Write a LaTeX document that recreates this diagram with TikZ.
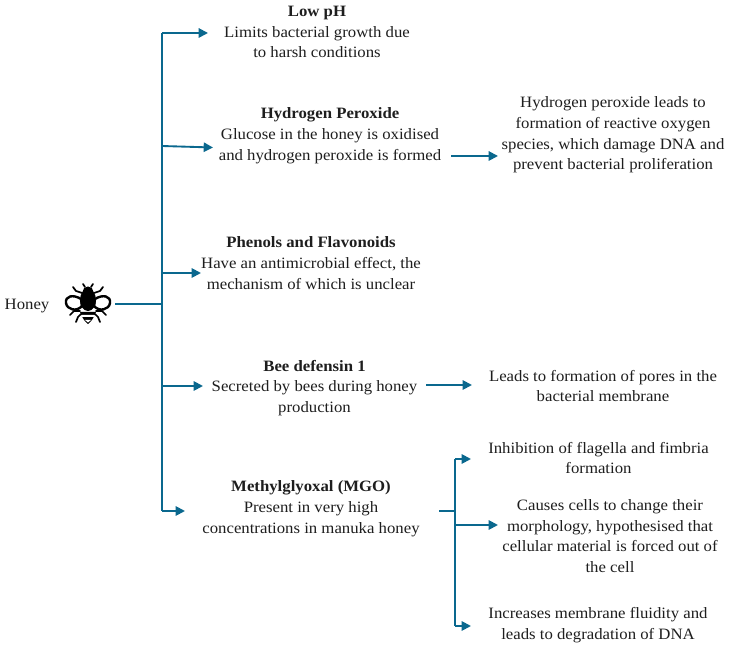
\documentclass[tikz,border=0pt]{standalone}
\usepackage{fontspec}
\setmainfont[FakeStretch=1.06]{Liberation Serif}
\usetikzlibrary{arrows.meta}
\definecolor{flow}{RGB}{10,104,142}
\definecolor{ink}{RGB}{30,30,30}
\tikzset{
 x=0.75pt,y=-0.75pt,
 txt/.style={align=center,inner sep=0pt,text=ink,font=\fontsize{11.85pt}{15.6pt}\selectfont},
 conn/.style={draw=flow,line width=1.4pt},
 arr/.style={conn,-{Triangle[length=7pt,width=7pt]}},
 beeline/.style={draw=black,line width=1.3pt,line cap=round},
}
\begin{document}
\begin{tikzpicture}
\useasboundingbox (0,0) rectangle (729,648);
\fill[white] (0,0) rectangle (729,648);
% text
\node[txt] (honey) at (27,306) {Honey};
\node[txt] (ph) at (317,32) {\textbf{Low pH}\\Limits bacterial growth due\\to harsh conditions};
\node[txt] (hp) at (330,136) {\textbf{Hydrogen Peroxide}\\Glucose in the honey is oxidised\\and hydrogen peroxide is formed};
\node[txt] (hpr) at (613,135) {Hydrogen peroxide leads to\\formation of reactive oxygen\\species, which damage DNA and\\prevent bacterial proliferation};
\node[txt] (pf) at (311,263) {\textbf{Phenols and Flavonoids}\\Have an antimicrobial effect, the\\mechanism of which is unclear};
\node[txt] (bd) at (314.5,388) {\textbf{Bee defensin 1}\\Secreted by bees during honey\\production};
\node[txt] (bdr) at (603,386) {Leads to formation of pores in the\\bacterial membrane};
\node[txt] (mgo) at (311,509) {\textbf{Methylglyoxal (MGO)}\\Present in very high\\concentrations in manuka honey};
\node[txt] (m1) at (598.5,458) {Inhibition of flagella and fimbria\\formation};
\node[txt] (m2) at (610,536) {Causes cells to change their\\morphology, hypothesised that\\cellular material is forced out of\\the cell};
\node[txt] (m3) at (598,625) {Increases membrane fluidity and\\leads to degradation of DNA};
% bee
\coordinate (bee) at (88,305);
\begin{scope}[shift={(bee)}]
 \fill (0,-5) ellipse [x radius=8,y radius=11];
 \fill (0,-13) circle [radius=5.5];
 \fill (-8,7) .. controls (-6,12) and (-4,16) .. (0,19) .. controls (4,16) and (6,12) .. (8,7) -- cycle;
 \fill[white] (-7,10) -- (7,10) -- (6,12) -- (-6,12) -- cycle;
 \fill[white] (-3,15) -- (3,15) -- (0,17.5) -- cycle;
 \draw[beeline,line width=1.8pt] (-7,-6) .. controls (-15,-11) and (-23,-9) .. (-22,-2) .. controls (-21,5) and (-11,7) .. (-6,1) -- cycle;
 \draw[beeline,line width=1.8pt] (7,-6) .. controls (15,-11) and (23,-9) .. (22,-2) .. controls (21,5) and (11,7) .. (6,1) -- cycle;
 \draw[beeline] (-3,-18) -- (-5,-21); \draw[beeline] (3,-18) -- (5,-21);
 \draw[beeline] (-6,-12) -- (-12,-14) -- (-15,-18);
 \draw[beeline] (6,-12) -- (12,-14) -- (15,-18);
 \draw[beeline] (-8,6) -- (-14,6) -- (-18,10);
 \draw[beeline] (8,6) -- (14,6) -- (18,10);
 \draw[beeline] (-7,9) -- (-10,12) -- (-12,17);
 \draw[beeline] (7,9) -- (10,12) -- (12,17);
\end{scope}
% connectors
\coordinate (stem) at (115,304);
\coordinate (tj) at (162,304);
\coordinate (t1) at (162,33);
\coordinate (t2) at (162,146);
\coordinate (t3) at (162,273);
\coordinate (t4) at (162,386);
\coordinate (t5) at (162,511);
\coordinate (a1) at (208,33);
\coordinate (a2) at (213,147.5);
\coordinate (a3) at (201,273);
\coordinate (a4) at (203,386);
\coordinate (a5) at (185,511);
\draw[conn] (stem) -- (tj);
\draw[arr] (t1) -- (a1);
\draw[conn] (t1) -- (t5);
\draw[arr] (t2) -- (a2);
\draw[arr] (t3) -- (a3);
\draw[arr] (t4) -- (a4);
\draw[arr] (t5) -- (a5);
\coordinate (h1) at (451,156);
\coordinate (h2) at (498,156);
\draw[arr] (h1) -- (h2);
\coordinate (d1) at (426,385);
\coordinate (d2) at (472,385);
\draw[arr] (d1) -- (d2);
\coordinate (g0) at (439,511);
\coordinate (gj) at (455,511);
\coordinate (g1) at (455,459);
\coordinate (g2) at (455,525);
\coordinate (g3) at (455,626);
\coordinate (g1e) at (471,459);
\coordinate (g2e) at (498,525);
\coordinate (g3e) at (471,626);
\draw[conn] (g0) -- (gj);
\draw[conn] (g1) -- (g3);
\draw[arr] (g1) -- (g1e);
\draw[arr] (g2) -- (g2e);
\draw[arr] (g3) -- (g3e);
\end{tikzpicture}
\end{document}
